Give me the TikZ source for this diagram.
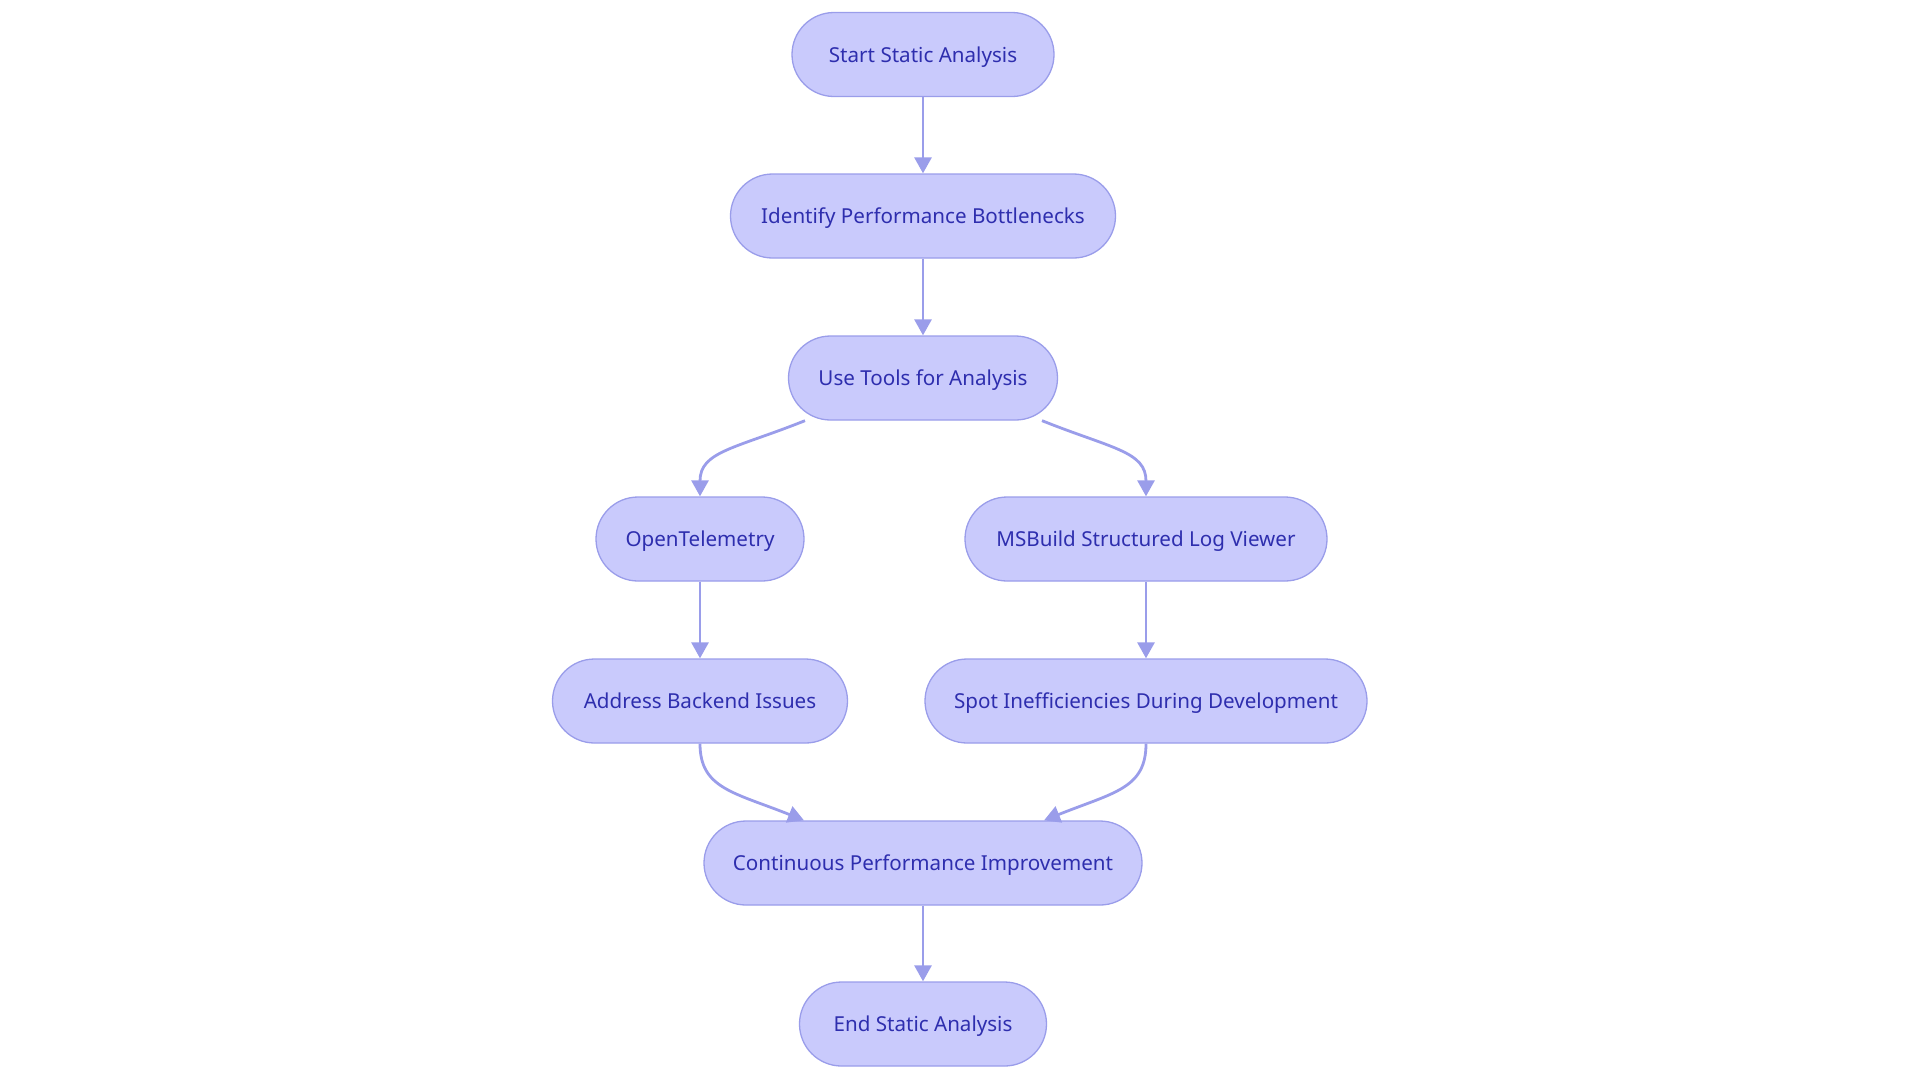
\documentclass[tikz,border=0pt]{standalone}
\usepackage{fontspec}
\setmainfont{Noto Sans}
\usetikzlibrary{arrows.meta}
\definecolor{nodefill}{HTML}{C9CAFC}
\definecolor{nodeline}{HTML}{9A9DEA}
\definecolor{nodetext}{HTML}{2E2EAE}
\definecolor{edgecol}{HTML}{9A9DEA}
\begin{document}
\begin{tikzpicture}[x=1pt,y=-1pt,
  pill/.style={draw=nodeline, line width=1.3pt, fill=nodefill, text=nodetext,
    rounded corners=42pt, minimum height=84pt, inner sep=0pt,
    text height=15pt, text depth=0pt,
    font=\fontsize{20.6}{23}\selectfont},
  edge/.style={draw=edgecol, line width=2.8pt, -{Triangle[length=16pt,width=17pt]}}]
\useasboundingbox (0,0) rectangle (1920,1080);
\node[pill, minimum width=262pt] (start) at (923,54.5) {Start Static Analysis};
\node[pill, minimum width=385pt] (ident) at (923,216) {Identify Performance Bottlenecks};
\node[pill, minimum width=269pt] (use) at (923,378) {Use Tools for Analysis};
\node[pill, minimum width=208pt] (otel) at (700,539) {OpenTelemetry};
\node[pill, minimum width=362pt] (msb) at (1146,539) {MSBuild Structured Log Viewer};
\node[pill, minimum width=295pt] (addr) at (700,701) {Address Backend Issues};
\node[pill, minimum width=442pt] (spot) at (1146,701) {Spot Inefficiencies During Development};
\node[pill, minimum width=438pt] (cont) at (923,863) {Continuous Performance Improvement};
\node[pill, minimum width=247pt] (end) at (923,1024) {End Static Analysis};

\draw[edge] (start.south) -- (ident.north);
\draw[edge] (ident.south) -- (use.north);
\draw[edge] ([xshift=-118pt]use.south) .. controls +(-70,28) and +(0,-45) .. (otel.north);
\draw[edge] ([xshift=119pt]use.south) .. controls +(70,28) and +(0,-45) .. (msb.north);
\draw[edge] (otel.south) -- (addr.north);
\draw[edge] (msb.south) -- (spot.north);
\draw[edge] (addr.south) .. controls +(0,45) and +(-70,-28) .. ([xshift=-119pt]cont.north);
\draw[edge] (spot.south) .. controls +(0,45) and +(70,-28) .. ([xshift=121pt]cont.north);
\draw[edge] (cont.south) -- (end.north);
\end{tikzpicture}
\end{document}
